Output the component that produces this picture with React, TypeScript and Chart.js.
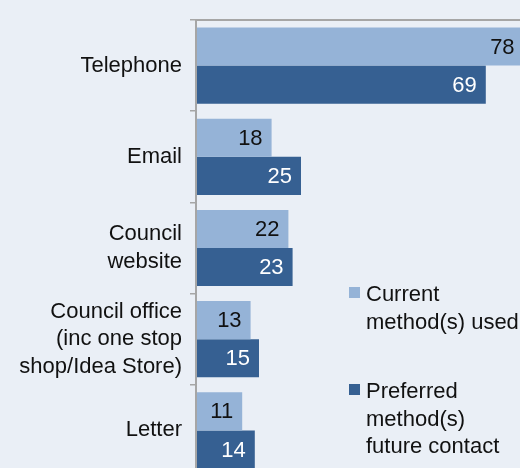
import React, { useEffect, useRef } from "react";
import { Chart, registerables } from "chart.js";

Chart.register(...registerables);

const categories: (string | string[])[] = [
  "Telephone",
  "Email",
  ["Council", "website"],
  ["Council office", "(inc one stop", "shop/Idea Store)"],
  "Letter",
];
const currentUsed = [78, 18, 22, 13, 11];
const preferredFuture = [69, 25, 23, 15, 14];
const seriesNames = ["Current method(s) used", "Preferred method(s) future contact"];
const legendLines = [
  ["Current", "method(s) used"],
  ["Preferred", "method(s)", "future contact"],
];

const FONT = '"Liberation Sans", Arial, sans-serif';
const LIGHT = "#95B3D7";
const DARK = "#366092";
const AXIS = "#A6A6A6";

const dataLabels = {
  id: "dataLabels",
  afterDatasetsDraw(chart: any) {
    const ctx = chart.ctx;
    ctx.save();
    ctx.font = `22px ${FONT}`;
    ctx.textAlign = "right";
    ctx.textBaseline = "middle";
    chart.data.datasets.forEach((ds: any, di: number) => {
      const meta = chart.getDatasetMeta(di);
      ctx.fillStyle = di === 0 ? "#111111" : "#FFFFFF";
      meta.data.forEach((el: any, i: number) => {
        ctx.fillText(String(ds.data[i]), el.x - 9, el.y + 1);
      });
    });
    ctx.restore();
  },
};

const sideLegend = {
  id: "sideLegend",
  afterDraw(chart: any) {
    const ctx = chart.ctx;
    const left = chart.chartArea.left + 153;
    const starts = [301, 398];
    const lh = 27.5;
    ctx.save();
    ctx.font = `22px ${FONT}`;
    ctx.textAlign = "left";
    ctx.textBaseline = "alphabetic";
    chart.data.datasets.forEach((ds: any, di: number) => {
      const base = starts[di];
      ctx.fillStyle = ds.backgroundColor;
      ctx.fillRect(left, base - 14, 11, 11);
      ctx.fillStyle = "#111111";
      legendLines[di].forEach((line, li) => {
        ctx.fillText(line, left + 17, base + li * lh);
      });
    });
    ctx.restore();
  },
};

export default function App() {
  const ref = useRef<HTMLCanvasElement | null>(null);
  useEffect(() => {
    if (!ref.current) return;
    const chart = new Chart(ref.current, {
      type: "bar",
      data: {
        labels: categories as any,
        datasets: [
          {
            label: seriesNames[0],
            data: currentUsed,
            backgroundColor: LIGHT,
            barPercentage: 1,
            categoryPercentage: 0.835,
          },
          {
            label: seriesNames[1],
            data: preferredFuture,
            backgroundColor: DARK,
            barPercentage: 1,
            categoryPercentage: 0.835,
          },
        ],
      },
      options: {
        indexAxis: "y",
        responsive: false,
        animation: false,
        layout: { padding: 0 },
        plugins: {
          legend: { display: false },
          tooltip: { enabled: false },
        },
        scales: {
          x: {
            position: "top",
            min: 0,
            max: 90,
            ticks: { display: false },
            grid: { display: true, drawOnChartArea: false, drawTicks: false, color: AXIS, lineWidth: 2 },
            border: { display: true, color: AXIS, width: 2 },
            afterFit: (s: any) => {
              s.height = 20;
              s.paddingLeft = 0;
              s.paddingRight = 0;
            },
          },
          y: {
            offset: true,
            ticks: {
              color: "#111111",
              font: { family: FONT, size: 22, lineHeight: 1.25 },
              padding: 8,
            },
            grid: {
              display: true,
              offset: true,
              drawOnChartArea: false,
              drawTicks: true,
              tickLength: 6,
              color: AXIS,
              lineWidth: 1.5,
            },
            border: { display: true, color: AXIS, width: 2 },
            afterFit: (s: any) => {
              s.width = 196;
              s.paddingTop = 0;
              s.paddingBottom = 0;
            },
          },
        },
      },
      plugins: [dataLabels, sideLegend],
    });
    return () => chart.destroy();
  }, []);

  return (
    <div
      style={{
        position: "fixed",
        left: 0,
        top: 0,
        width: 520,
        height: 468,
        overflow: "hidden",
        background: "#EAEFF6",
      }}
    >
      <canvas ref={ref} width={574} height={476} style={{ display: "block" }} />
    </div>
  );
}
